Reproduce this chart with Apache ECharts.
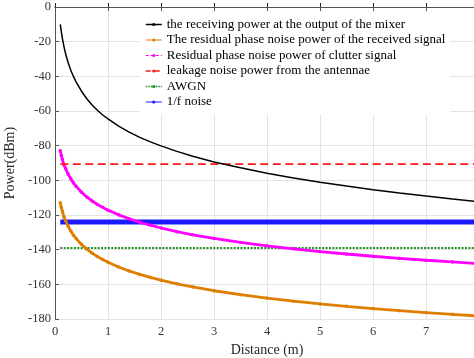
<!DOCTYPE html>
<html>
<head>
<meta charset="utf-8">
<script src="https://cdn.jsdelivr.net/npm/echarts@6/dist/echarts.min.js"></script>
<style>
html,body{margin:0;padding:0;background:#fff;}
#chart{width:474px;height:358px;}
</style>
</head>
<body>
<div id="chart"></div>
<script>
// Distance (m)
const distance = [0.1, 0.12, 0.14, 0.17, 0.2, 0.25, 0.3, 0.35, 0.4, 0.5, 0.6, 0.7, 0.8, 0.9, 1,
  1.2, 1.4, 1.6, 1.8, 2, 2.3, 2.6, 3, 3.5, 4, 4.5, 5, 5.5, 6, 6.5, 7, 7.5, 8];
// the receiving power at the output of the mixer (dBm)
const receivingPower = [-10, -14.5, -18.3, -23, -27, -32.3, -36.6, -40.2, -43.3, -48.6, -52.9, -56.5, -59.6, -62.3, -64.6,
  -68.7, -72.2, -75.2, -77.8, -80.1, -83.3, -86.1, -89.4, -92.8, -95.9, -98.6, -101.1, -103.3, -105.4, -107.3, -109.1, -110.8, -112.4];
// The residual phase noise power of the received signal (dBm)
const residualReceived = [-113, -115.7, -118, -121.2, -123.3, -126.6, -129.4, -131.7, -133.6, -137, -139.7, -142, -144, -145.7, -147.3,
  -150, -152.3, -154.3, -156, -157.6, -159.7, -161.5, -163.7, -166, -167.9, -169.7, -171.3, -172.7, -174, -175.2, -176.3, -177.3, -178.3];
// Residual phase noise power of clutter signal (dBm)
const residualClutter = [-83, -85.7, -88, -91.1, -93.2, -96.5, -99.3, -101.6, -103.5, -106.9, -109.6, -111.9, -113.9, -115.6, -117.2,
  -119.9, -122.2, -124.2, -125.9, -127.5, -129.6, -131.4, -133.5, -135.8, -137.8, -139.5, -141.1, -142.5, -143.8, -145, -146.1, -147.1, -148.1];
// constant levels (dBm)
const leakageLevel = -90.7;
const awgnLevel = -139;
const flickerLevel = -124.1;
const flatX = [0.1, 8];

const names = [
  'the receiving power at the output of the mixer',
  'The residual phase noise power of the received signal',
  'Residual phase noise power of clutter signal',
  'leakage noise power from the antennae',
  'AWGN',
  '1/f noise'
];
const colors = ['#000000', '#de7f00', '#ff00ff', '#ff1a1a', '#1f8f1f', '#1a1aff'];

function pairs(xs, ys) { return xs.map((x, i) => [x, ys[i]]); }
function flat(xs, v) { return xs.map(x => [x, v]); }

const font = 'Liberation Serif, Times New Roman, serif';
const chart = echarts.init(document.getElementById('chart'), null, {renderer: 'canvas'});
chart.setOption({
  animation: false,
  backgroundColor: '#ffffff',
  grid: {left: 55, top: 7, height: 312, width: 424, containLabel: false, outerBoundsMode: 'none'},
  xAxis: [{
    type: 'value', min: 0, max: 8, interval: 1, position: 'bottom',
    name: 'Distance (m)', nameLocation: 'middle', nameGap: 19,
    nameTextStyle: {fontFamily: font, fontSize: 14, color: '#262626'},
    axisLine: {show: true, lineStyle: {color: '#262626', width: 1}},
    axisTick: {show: true, inside: true, length: 4, lineStyle: {color: '#262626'}},
    axisLabel: {fontFamily: font, fontSize: 12.5, color: '#333', margin: 6, showMaxLabel: false},
    splitLine: {show: true, lineStyle: {color: '#e3e3e3', width: 1}}
  }, {
    type: 'value', min: 0, max: 8, interval: 1, position: 'top',
    axisLine: {show: true, lineStyle: {color: '#555', width: 1}},
    axisTick: {show: true, inside: true, length: 4, lineStyle: {color: '#555'}},
    axisLabel: {show: false}, splitLine: {show: false}
  }],
  yAxis: [{
    type: 'value', min: -180, max: 0, interval: 20,
    name: 'Power(dBm)', nameLocation: 'middle', nameGap: 25, nameRotate: 90,
    nameTextStyle: {fontFamily: font, fontSize: 14, color: '#262626'},
    axisLine: {show: true, lineStyle: {color: '#555', width: 1}},
    axisTick: {show: true, inside: true, length: 4, lineStyle: {color: '#555'}},
    axisLabel: {fontFamily: font, fontSize: 12.5, color: '#333', margin: 4},
    splitLine: {show: true, lineStyle: {color: '#e3e3e3', width: 1}}
  }],
  legend: {
    orient: 'vertical', left: 140, top: 12,
    padding: [6, 5, 6, 5], backgroundColor: '#ffffff',
    itemWidth: 16, itemHeight: 4, itemGap: 2.5,
    textStyle: {fontFamily: font, fontSize: 13, color: '#000', lineHeight: 13},
    data: [
      {name: names[0], lineStyle: {width: 1.5}},
      {name: names[1], lineStyle: {width: 1}},
      {name: names[2], lineStyle: {width: 1, type: [3, 2]}},
      {name: names[3], lineStyle: {width: 1.5, type: [5, 4]}},
      {name: names[4], lineStyle: {width: 1.5, type: [1.5, 1]}},
      {name: names[5], lineStyle: {width: 1}}
    ]
  },
  series: [
    {name: names[0], type: 'line', data: pairs(distance, receivingPower), smooth: false,
     symbol: 'none', lineStyle: {color: colors[0], width: 1.5}, itemStyle: {color: colors[0]}, z: 5},
    {name: names[1], type: 'line', data: pairs(distance, residualReceived), smooth: false,
     symbol: 'circle', symbolSize: 3.5, showAllSymbol: true,
     lineStyle: {color: colors[1], width: 2.8}, itemStyle: {color: colors[1]}, z: 3},
    {name: names[2], type: 'line', data: pairs(distance, residualClutter), smooth: false,
     symbol: 'circle', symbolSize: 3.5, showAllSymbol: true,
     lineStyle: {color: colors[2], width: 2.8}, itemStyle: {color: colors[2]}, z: 3},
    {name: names[3], type: 'line', data: flat(flatX, leakageLevel), symbol: 'none',
     lineStyle: {color: colors[3], width: 1.8, type: [8, 4.5]}, itemStyle: {color: colors[3]}, z: 4},
    {name: names[4], type: 'line', data: flat(flatX, awgnLevel), symbol: 'none',
     lineStyle: {color: colors[4], width: 2, type: [2, 1.4]}, itemStyle: {color: colors[4]}, z: 2},
    {name: names[5], type: 'line', data: flat(flatX, flickerLevel), symbol: 'none',
     lineStyle: {color: colors[5], width: 5}, itemStyle: {color: colors[5]}, z: 2}
  ]
});
</script>
</body>
</html>
